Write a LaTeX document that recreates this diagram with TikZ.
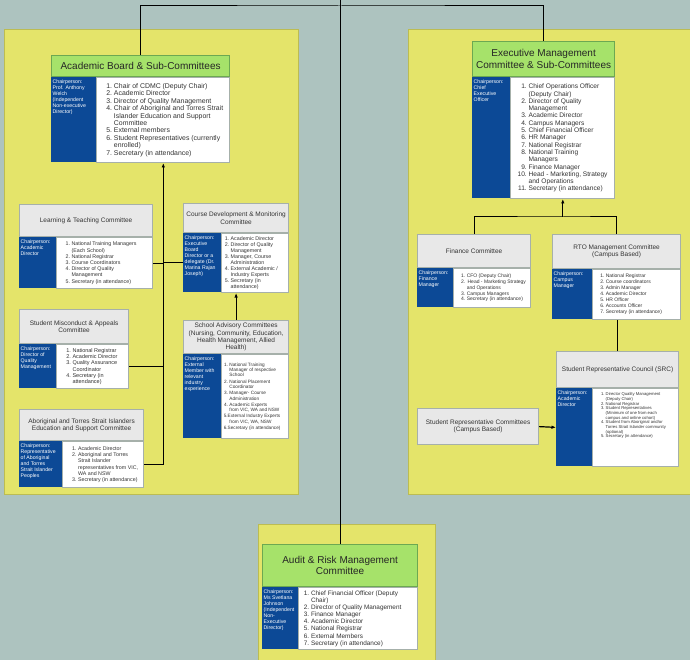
\documentclass[tikz,border=0pt]{standalone}
\usepackage{fontspec}
\setmainfont{Liberation Sans}
\usetikzlibrary{arrows.meta,positioning,backgrounds}

\definecolor{bgteal}{RGB}{173,195,191}
\definecolor{panelyel}{RGB}{228,228,106}
\definecolor{paneledge}{RGB}{188,188,82}
\definecolor{headgreen}{RGB}{166,226,106}
\definecolor{greenedge}{RGB}{108,168,82}
\definecolor{headgrey}{RGB}{232,232,232}
\definecolor{greyedge}{RGB}{166,176,170}
\definecolor{chairblue}{RGB}{12,73,150}

\newcommand{\fs}[2]{\fontsize{#1}{#2}\selectfont}
\newcommand{\cbox}[3]{\parbox[t][#2][t]{#1}{\raggedright #3}}
\newcommand{\lbox}[3]{\parbox[t][#2][c]{#1}{\raggedright #3}}
\newcommand{\lw}{2.2em}
\newcommand{\itm}[1]{\par\hangindent=\lw\hangafter=1\noindent\makebox[\lw][r]{#1.\ }\ignorespaces}
\newcommand{\nl}{\newline}

\begin{document}
\begin{tikzpicture}[
  x=1pt, y=-1pt,
  link/.style={line width=1pt},
  arrow/.style={line width=1.2pt, -{Latex[length=4.5pt,width=3.5pt]}},
  bighead/.style={draw=greenedge, line width=1.2pt, fill=headgreen, anchor=north west,
                  align=center, inner sep=1pt, text=black!85, font=\fs{10}{11.5}},
  subhead/.style={draw=greyedge, line width=1.2pt, fill=headgrey, anchor=north west,
                  align=center, inner sep=1pt, text=black!80, font=\fs{6.5}{7.4}},
  chair/.style={fill=chairblue, text=white, inner xsep=1.5pt, inner ysep=2pt, font=\fs{5.2}{6}},
  members/.style={draw=greyedge, line width=0.8pt, fill=white, inner xsep=2pt, inner ysep=2pt,
                  text=black!80},
  panel/.style={draw=paneledge, line width=1pt, fill=panelyel}
]
\useasboundingbox (0,0) rectangle (690,660);

% Academic board
\node[bighead, minimum width=178pt, minimum height=21pt] (acad) at (51,55)
  {Academic Board \& Sub-Committees};
\node[chair, below right=0pt and 0pt of acad.south west] (acadchair)
  {\cbox{42pt}{81pt}{Chairperson:\\Prof. Anthony\\Welch\\(Independent\\Non-executive\\Director)}};
\node[members, font=\fs{6.9}{7.4}, below right=0pt and 0pt of acadchair.north east] (acadlist)
  {\lbox{129pt}{81pt}{%
   \itm{1}Chair of CDMC (Deputy Chair)
   \itm{2}Academic Director
   \itm{3}Director of Quality Management
   \itm{4}Chair of Aboriginal and Torres Strait\nl Islander Education and Support\nl Committee
   \itm{5}External members
   \itm{6}Student Representatives (currently\nl enrolled)
   \itm{7}Secretary (in attendance)}};

\node[subhead, minimum width=133pt, minimum height=32pt] (ltc) at (19,204)
  {Learning \& Teaching Committee};
\node[chair, below right=0pt and 0pt of ltc.south west] (ltcchair)
  {\cbox{34pt}{47pt}{Chairperson:\\Academic\\Director}};
\node[members, font=\fs{5.3}{6.2}, below right=0pt and 0pt of ltcchair.north east] (ltclist)
  {\lbox{92pt}{47pt}{\renewcommand{\lw}{2.4em}%
   \itm{1}National Training Managers\nl (Each School)
   \itm{2}National Registrar
   \itm{3}Course Coordinators
   \itm{4}Director of Quality\nl Management
   \itm{5}Secretary (in attendance)}};

\node[subhead, minimum width=109pt, minimum height=34pt] (smc) at (19,309)
  {Student Misconduct \& Appeals\\Committee};
\node[chair, below right=0pt and 0pt of smc.south west] (smcchair)
  {\cbox{34pt}{40pt}{Chairperson:\\Director of\\Quality\\Management}};
\node[members, font=\fs{5.5}{6.3}, below right=0pt and 0pt of smcchair.north east] (smclist)
  {\lbox{68pt}{40pt}{\renewcommand{\lw}{2.5em}%
   \itm{1}National Registrar
   \itm{2}Academic Director
   \itm{3}Quality Assurance\nl Coordinator
   \itm{4}Secretary (in\nl attendance)}};

\node[subhead, minimum width=124pt, minimum height=31pt] (abo) at (19,409)
  {Aboriginal and Torres Strait Islanders\\Education and Support Committee};
\node[chair, below right=0pt and 0pt of abo.south west] (abochair)
  {\cbox{40pt}{42pt}{Chairperson:\\Representative\\of Aboriginal\\and Torres\\Strait Islander\\Peoples}};
\node[members, font=\fs{5.3}{6.3}, below right=0pt and 0pt of abochair.north east] (abolist)
  {\lbox{77pt}{42pt}{\renewcommand{\lw}{2.5em}%
   \itm{1}Academic Director
   \itm{2}Aboriginal and Torres\nl Strait Islander\nl representatives from VIC,\nl WA and NSW
   \itm{3}Secretary (in attendance)}};

\node[subhead, minimum width=105pt, minimum height=29pt] (cdm) at (183,203)
  {Course Development \& Monitoring\\Committee};
\node[chair, below right=0pt and 0pt of cdm.south west] (cdmchair)
  {\cbox{35pt}{55pt}{Chairperson:\\Executive\\Board\\Director or a\\delegate (Dr.\\Marina Rajan\\Joseph)}};
\node[members, font=\fs{5.3}{6}, below right=0pt and 0pt of cdmchair.north east] (cdmlist)
  {\lbox{63pt}{55pt}{\renewcommand{\lw}{1.3em}%
   \itm{1}Academic Director
   \itm{2}Director of Quality\nl Management
   \itm{3}Manager, Course\nl Administration
   \itm{4}External Academic /\nl Industry Experts
   \itm{5}Secretary (in\nl attendance)}};

\node[subhead, minimum width=105pt, minimum height=33pt, font=\fs{6.5}{7.2}] (sac) at (183,320)
  {School Advisory Committees\\(Nursing, Community, Education,\\Health Management, Allied\\Health)};
\node[chair, below right=0pt and 0pt of sac.south west] (sacchair)
  {\cbox{35pt}{80pt}{Chairperson:\\External\\Member with\\relevant\\industry\\experience}};
\node[members, font=\fs{4.7}{5.4}, below right=0pt and 0pt of sacchair.north east] (saclist)
  {\lbox{63pt}{80pt}{\renewcommand{\lw}{1.2em}\parskip=0.8pt
   \itm{1}National Training\nl Manager of respective\nl School
   \itm{2}National Placement\nl Coordinator
   \itm{3}Manager- Course\nl Administration
   \itm{4}Academic Experts\nl from VIC, WA and NSW
   \par\hangindent=\lw\hangafter=1\noindent 5.External Industry Experts\nl from VIC, WA, NSW
   \par\noindent 6.Secretary (in attendance)}};

% Executive management
\node[bighead, minimum width=142pt, minimum height=35pt] (exec) at (472,41)
  {Executive Management\\Committee \& Sub-Committees};
\node[chair, below right=0pt and 0pt of exec.south west] (execchair)
  {\cbox{35pt}{117pt}{Chairperson:\\Chief\\Executive\\Officer}};
\node[members, font=\fs{6.6}{7.3}, below right=0pt and 0pt of execchair.north east] (execlist)
  {\lbox{100pt}{117pt}{\renewcommand{\lw}{2.4em}%
   \itm{1}Chief Operations Officer\nl (Deputy Chair)
   \itm{2}Director of Quality\nl Management
   \itm{3}Academic Director
   \itm{4}Campus Managers
   \itm{5}Chief Financial Officer
   \itm{6}HR Manager
   \itm{7}National Registrar
   \itm{8}National Training\nl Managers
   \itm{9}Finance Manager
   \itm{10}Head - Marketing, Strategy\nl and Operations
   \itm{11}Secretary (in attendance)}};

\node[subhead, minimum width=113pt, minimum height=33pt] (fin) at (417,234)
  {Finance Committee};
\node[chair, below right=0pt and 0pt of fin.south west] (finchair)
  {\cbox{33pt}{35pt}{Chairperson:\\Finance\\Manager}};
\node[members, font=\fs{5}{5.8}, below right=0pt and 0pt of finchair.north east] (finlist)
  {\lbox{73pt}{35pt}{%
   \itm{1}CFO (Deputy Chair)
   \itm{2}\,Head - Marketing Strategy\nl and Operations
   \itm{3}Campus Managers
   \itm{4}Secretary (in attendance)}};

\node[subhead, minimum width=128pt, minimum height=34pt] (rto) at (552,234)
  {RTO Management Committee\\(Campus Based)};
\node[chair, below right=0pt and 0pt of rto.south west] (rtochair)
  {\cbox{37pt}{46pt}{Chairperson:\\Campus\\Manager}};
\node[members, font=\fs{5}{6}, below right=0pt and 0pt of rtochair.north east] (rtolist)
  {\lbox{84pt}{46pt}{%
   \itm{1}National Registrar
   \itm{2}Course coordinators
   \itm{3}Admin Manager
   \itm{4}Academic Director
   \itm{5}HR Officer
   \itm{6}Accounts Officer
   \itm{7}Secretary (in attendance)}};

\node[subhead, minimum width=122pt, minimum height=36pt] (src) at (556,351)
  {Student Representative Council (SRC)};
\node[chair, below right=0pt and 0pt of src.south west] (srcchair)
  {\cbox{33pt}{74pt}{Chairperson:\\Academic\\Director}};
\node[members, font=\fs{4.2}{4.7}, below right=0pt and 0pt of srcchair.north east] (srclist)
  {\cbox{82pt}{74pt}{\renewcommand{\lw}{2.6em}\vspace*{2pt}%
   \itm{1}Director Quality Management\nl (Deputy Chair)
   \itm{2}National Registrar
   \itm{3}Student Representatives\nl (Minimum of one from each\nl campus and online cohort)
   \itm{4}Student from Aboriginal and/or\nl Torres Strait Islander community\nl (optional)
   \itm{5}Secretary (in attendance)}};

\node[subhead, minimum width=121pt, minimum height=36pt] (srcc) at (417,408)
  {Student Representative Committees\\(Campus Based)};

% Audit and risk
\node[bighead, minimum width=155pt, minimum height=42pt] (audit) at (262,544)
  {Audit \& Risk Management\\Committee};
\node[chair, below right=0pt and 0pt of audit.south west] (auditchair)
  {\cbox{33pt}{58pt}{Chairperson:\\Ms Svetlana\\Johnson\\(Independent\\Non-\\Executive\\Director)}};
\node[members, font=\fs{6.4}{7.1}, below right=0pt and 0pt of auditchair.north east] (auditlist)
  {\lbox{115pt}{58pt}{\renewcommand{\lw}{1.6em}%
   \itm{1}Chief Financial Officer (Deputy\nl Chair)
   \itm{2}Director of Quality Management
   \itm{3}Finance Manager
   \itm{4}Academic Director
   \itm{5}National Registrar
   \itm{6}External Members
   \itm{7}Secretary (in attendance)}};

% Coordinates
\coordinate (feed) at (340,0);
\coordinate (hub) at (340,6);
\coordinate (lj) at (acadlist.south |- abolist.east);
\path (execlist.south) ++(0,18) coordinate (fj);

% Connectors
\draw[link] (feed) -- (feed |- audit.north);
\draw[link] (acad.north) |- (hub) -| (exec.north);

\draw[arrow] (abolist.east) -- (lj) -- (acadlist.south);
\draw[link] (ltclist.east) -- (ltclist.east -| lj);
\draw[link] (smclist.east) -- (smclist.east -| lj);
\draw[link] (cdmchair.west) -- (cdmchair.west -| lj);
\draw[arrow] (sac.north) -- (sac.north |- cdmlist.south);

\draw[link] (fin.north) |- (fj) -| (rto.north);
\draw[arrow] (fj) -- (execlist.south);
\draw[link] (rtolist.south -| src.north) -- (src.north);
\draw[arrow] (srcc.east) -- (srcchair.west);

% Panels
\begin{pgfonlayer}{background}
  \fill[bgteal] (0,0) rectangle (690,660);
  \path[panel] (4,30) rectangle (298,494);
  \path[panel] (408,30) rectangle (700,494);
  \path[panel] (258,524) rectangle (435,670);
\end{pgfonlayer}

\end{tikzpicture}
\end{document}
